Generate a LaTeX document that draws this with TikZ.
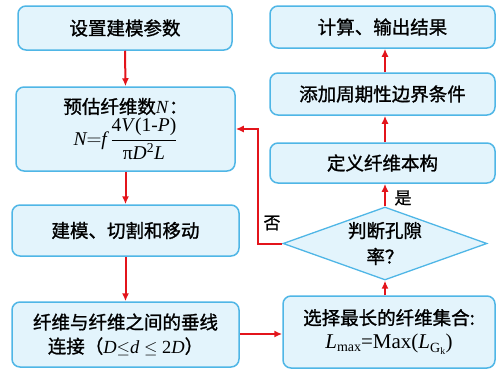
\documentclass[tikz,border=0pt]{standalone}
\usepackage{fontspec}
\usepackage{amsmath}
\setmainfont{Liberation Serif}
\newfontfamily\cjk[FakeBold=1.2]{Noto Sans CJK SC}
\newcommand\zh[1]{{\cjk #1}}
\newcommand\lowsub[2]{\raisebox{-#1}{\fontsize{14}{14}\selectfont #2}}
\usetikzlibrary{shapes.geometric,arrows.meta}
\definecolor{boxfill}{HTML}{E3F4FC}
\definecolor{boxline}{HTML}{4FB6E6}
\definecolor{arr}{HTML}{E3141B}
\tikzset{
  box/.style={draw=boxline, fill=boxfill, line width=1.5pt, rounded corners=8pt,
    align=center, inner sep=0pt, font=\fontsize{18.5}{24}\selectfont},
  dec/.style={diamond, draw=boxline, fill=boxfill, line width=1.3pt, aspect=2.8,
    align=center, inner sep=0pt, font=\fontsize{18.5}{26}\selectfont},
  arrow/.style={draw=arr, line width=2pt, -{Latex[length=8pt,width=7pt]}},
  lbl/.style={font=\cjk\fontsize{17}{20}\selectfont, inner sep=0pt}
}
\begin{document}
\begin{tikzpicture}[x=1pt,y=-1pt]
\useasboundingbox (0,0) rectangle (496,372);
% left column
\node[box, minimum width=214pt, minimum height=44pt] (b1) at (125,28) {\zh{设置建模参数}};
\node[box, minimum width=219pt, minimum height=84pt] (b2) at (125.5,129)
  {\zh{预估纤维数}\textit{N}\zh{：}\\[2pt]
   {\fontsize{19.5}{24}\selectfont$\textit{N}{=}\textit{f}\,\dfrac{\text{4\textit{V}(1-\textit{P})}}{\text{π\textit{D}\textsuperscript{2}\textit{L}}}$}};
\node[box, minimum width=227pt, minimum height=51pt] (b3) at (125.5,230.5) {\zh{建模、切割和移动}};
\node[box, minimum width=227pt, minimum height=65pt] (b4) at (125.5,334.5)
  {\zh{纤维与纤维之间的垂线}\\\zh{连接（}\textit{D}$\le$\textit{d} $\le$ 2\textit{D}\zh{）}};
% right column
\node[box, minimum width=225pt, minimum height=42pt] (r1) at (382.5,27) {\zh{计算、输出结果}};
\node[box, minimum width=225pt, minimum height=42pt] (r2) at (382.5,94) {\zh{添加周期性边界条件}};
\node[box, minimum width=225pt, minimum height=40pt] (r3) at (382.5,163) {\zh{定义纤维本构}};
\node[dec, minimum width=204pt, minimum height=73pt] (d) at (385,243.5) {\zh{判断孔隙}\\\zh{率？}};
\node[box, minimum width=212pt, minimum height=72pt] (r4) at (389,332)
  {\zh{选择最长的纤维集合:}\\
   {\fontsize{21}{24}\selectfont\textit{L}\lowsub{3pt}{max}=Max(\textit{L}\lowsub{4pt}{G\textsubscript{k}})}};
% connectors
\coordinate (c1) at (258,243.5);
\coordinate (c2) at (258,129);
\draw[arrow] (b1.south) -- (b2.north);
\draw[arrow] (b2.south) -- (b3.north);
\draw[arrow] (b3.south) -- (b4.north);
\draw[arrow] (b4.east |- 0,334) -- (r4.west |- 0,334);
\draw[arrow] (r4.north -| d.north) -- (d.south);
\draw[arrow] (d.north) -- (r3.south -| d.north);
\draw[arrow] (r3.north -| d.north) -- (r2.south -| d.north);
\draw[arrow] (r2.north -| d.north) -- (r1.south -| d.north);
\draw[arrow] (d.west) -- (c1) -- (c2) -- (b2.east |- c2);
\node[lbl] (yes) at (403,198) {是};
\node[lbl] (no) at (272,223) {否};
\end{tikzpicture}
\end{document}
